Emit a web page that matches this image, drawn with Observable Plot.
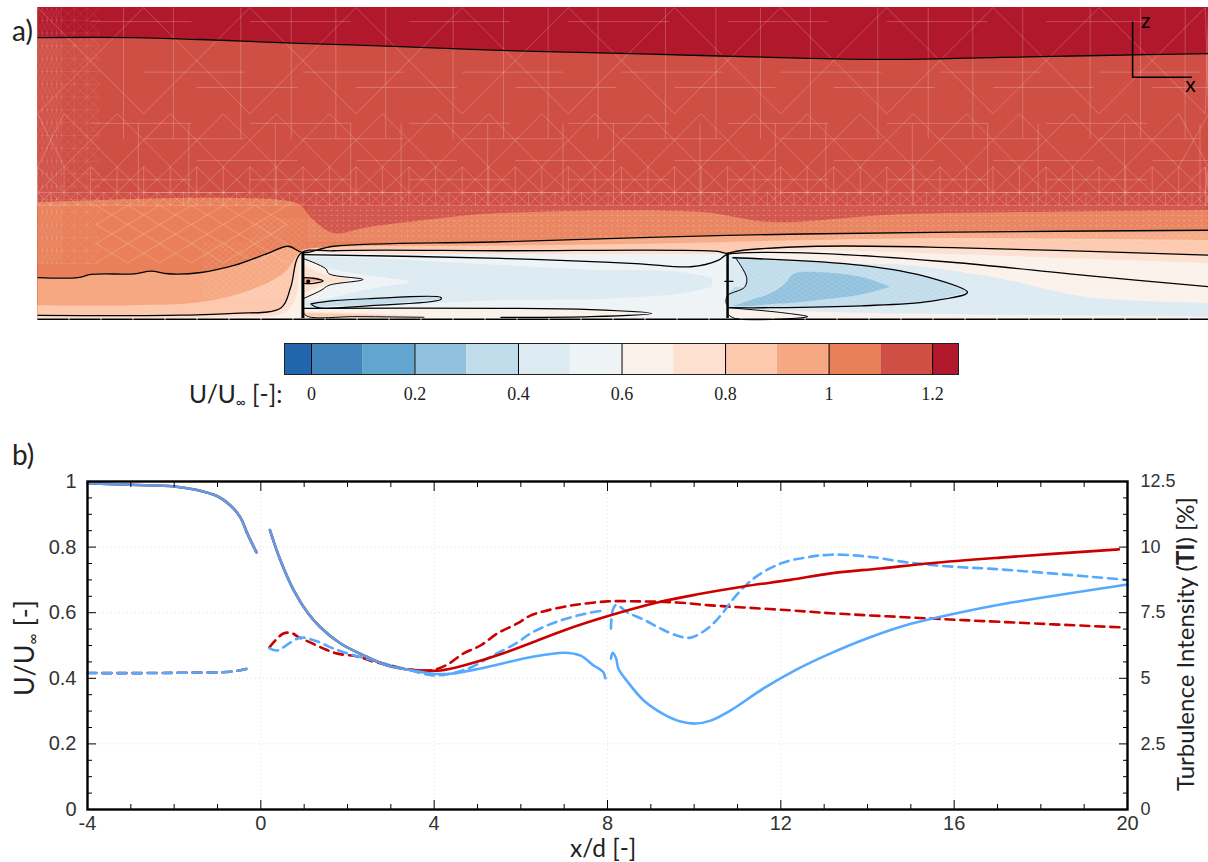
<!DOCTYPE html>
<html><head><meta charset="utf-8">
<script src="https://cdn.jsdelivr.net/npm/d3@7"></script>
<script src="https://cdn.jsdelivr.net/npm/@observablehq/plot@0.6"></script>
<style>
html,body{margin:0;padding:0;background:#fff}
#page{position:relative;width:1208px;height:862px;overflow:hidden;font-family:Lato,sans-serif;color:#222}
#page>div{position:absolute;white-space:nowrap;line-height:1}
#page>svg,#page>div>svg{position:absolute;overflow:visible}
sub{font-size:.55em;vertical-align:baseline;position:relative;top:.3em}
</style></head><body><div id="page"></div>
<script>
// ---------- colour levels of U/U_inf ----------
const levelEdges = [-0.052,0,0.1,0.2,0.3,0.4,0.5,0.6,0.7,0.8,0.9,1.0,1.1,1.2,1.25];
const levelColors = ["#2166ac","#4285bc","#62a5cf","#92c1de","#c1dcea","#dceaf2","#eef3f6","#faf1ea","#fde0d0","#fdc9ae","#f6a882","#e9805a","#d04f45","#b2182b"];
const contourTicks = [0,0.2,0.4,0.6,0.8,1,1.2];

// ---------- panel a: iso-level outlines [x/d, z/d] ----------
const iso12 = [[-4.99,4.42],[-3.18,4.42],[-1.92,4.39],[-0.04,4.33],[1.85,4.28],[3.73,4.22],[5.61,4.18],[7.5,4.14],[9.38,4.10],[11.26,4.08],[13.15,4.11],[15.0,4.14],[17.06,4.17]];
const iso11 = [[-4.99,1.84],[-1.92,1.91],[-0.36,1.87],[-0.04,1.80],[0.15,1.61],[0.58,1.36],[1.22,1.45],[2.6,1.59],[3.73,1.67],[7.48,1.69],[8.83,1.53],[10.96,1.64],[12.22,1.67],[17.06,1.72]];
const iso10 = [[-4.99,0.67],[-4.24,0.67],[-3.99,0.72],[-3.18,0.73],[-2.86,0.77],[-2.54,0.73],[-1.92,0.75],[-1.30,0.86],[-0.66,1.05],[-0.28,1.16],[0,1.06],[0.58,1.16],[3.73,1.23],[7.98,1.33],[12.22,1.38],[17.06,1.41]];
const iso09 = [[-4.99,0.23],[-3.18,0.23],[-1.92,0.28],[-0.98,0.47],[-0.36,0.73],[-0.09,1.02],[0,1.09],[0.58,1.14],[3.73,1.16],[7.98,1.22],[9.68,1.25],[12.22,1.28],[17.06,1.25]];
const iso08 = [[-4.99,0.08],[-2.54,0.08],[-1.30,0.11],[-0.41,0.20],[-0.23,0.52],[-0.04,1.05],[0.58,1.09],[3.73,1.09],[7.82,1.08],[7.98,1.05],[8.23,1.09],[9.68,1.16],[12.22,1.14],[17.06,1.02]];
const iso07 = [[-4.99,0.03],[-1.3,0.05],[-0.32,0.125],[-0.11,0.39],[-0.04,0.97],[0,1.02],[1.85,1.03],[3.73,1.02],[6.55,0.95],[7.82,0.97],[8,1.0],[8.25,1.06],[9.68,1.09],[12.22,1.03],[17.06,0.89]];
const iso06 = [[0.02,1.03],[3.73,0.97],[6.27,0.89],[7.31,0.84],[7.82,0.94],[7.98,1.03],[8.15,1.05],[9.68,1.05],[12.22,0.91],[14.78,0.70],[17.06,0.53]];

// ---------- panel a: closed regions [x/d, z top, z bottom] ----------
const regions = [
  [6,[[0,1.03,0.03],[8,1.03,0.03]]],
  [7,[[0,0.19,0.03],[3.73,0.19,0.03],[5.42,0.17,0.06],[6.57,0.11,0.11]]],
  [8,[[0,0.125,0.05],[1.0,0.11,0.04],[2.28,0.06,0.05]]],
  [9,[[0.1,0.11,0.06],[1.0,0.09,0.05],[1.8,0.06,0.05]]],
  [7,[[8.02,0.20,0.03],[9.0,0.125,0.04],[9.51,0.06,0.06]]],
  [5,[[0.06,0.98,0.22],[1.22,0.97,0.22],[3.73,0.86,0.31],[5.61,0.78,0.33],[6.27,0.78,0.36],[7.12,0.75,0.41],[7.72,0.66,0.52]]],
  [6,[[0.06,0.9,0.30],[0.5,0.8,0.34],[1.22,0.7,0.48],[2.0,0.62,0.58]]],
  [7,[[0.02,0.97,0.34],[0.43,0.81,0.47],[0.49,0.73,0.55],[1.13,0.64,0.64]]],
  [8,[[0.02,0.85,0.42],[0.4,0.72,0.54],[0.9,0.64,0.62]]],
  [10,[[0.02,0.67,0.58],[0.38,0.62,0.62]]],
  [4,[[0.15,0.26,0.20],[0.58,0.31,0.22],[1.22,0.34,0.24],[2.60,0.36,0.33]]],
  [5,[[8.1,1.0,0.16],[9.38,0.92,0.14],[10.53,0.88,0.11],[11.37,0.86,0.10],[13.07,0.66,0.08],[14.78,0.36,0.07],[17.06,0.27,0.05]]],
  [4,[[8.02,0.98,0.2],[10.53,0.86,0.23],[11.81,0.67,0.30],[12.52,0.44,0.44]]],
  [5,[[8.0,1.0,0.39],[8.15,0.98,0.52],[8.32,0.72,0.52],[8.36,0.67,0.67]]],
  [3,[[8.10,0.22,0.22],[8.44,0.31,0.22],[8.83,0.42,0.25],[9.10,0.58,0.26],[9.25,0.72,0.27],[9.68,0.75,0.31],[10.53,0.67,0.4],[11.07,0.52,0.52]]]
];

// ---------- panel a: contour outlines ----------
const wake1Inner = [[0,0.97],[0.43,0.81],[0.49,0.73],[1.13,0.64],[0.49,0.55],[0.34,0.47],[0,0.34]];
const hubLens = [[0.02,0.67],[0.2,0.66],[0.38,0.62],[0.2,0.58],[0.02,0.58]];
const lowerLens = [[0.15,0.26],[0.58,0.31],[1.22,0.34],[2.6,0.36],[2.6,0.33],[1.22,0.23],[0.28,0.20],[0.15,0.26]];
const lowerWake1 = [[0,0.19],[3.73,0.19],[5.42,0.17],[6.57,0.11],[5.42,0.06],[3.73,0.05]];
const lowerLens1 = [[0,0.125],[0.1,0.06],[1.0,0.06],[2.28,0.05]];
const lowerWake2 = [[8.02,0.20],[9.0,0.125],[9.51,0.06],[8.15,0.03],[8,0.1]];
const wake2Core = [[8.1,0.98],[10.53,0.86],[11.81,0.67],[12.52,0.44],[11.81,0.30],[10.53,0.23],[8.83,0.20],[8.02,0.20]];
const wake2Hub = [[8.15,0.98],[8.36,0.67],[8.32,0.52],[8.0,0.39],[7.97,0.28],[8.02,0.20]];
const hubDash = [[7.95,0.61],[8.1,0.61]];
const groundLine = [[-4.99,0.02],[17.06,0.02]];
const rotors = [0,8];

// ---------- panel a: mesh layout ----------
const meshRowZ = [4.89,3.23,2.4,2.0,1.8];
const meshRowDx = [2,1,0.5,0.25];
const meshRowShift = [0,0.5,0,0];
const meshVertOffsets = [0.62,0.9,1.56,1.85,2.83,3.48,3.78];
const meshHorizZ = [4.67,3.88,3.64,3.08,2.84,2.5,2.2,2.0];
const meshFineZ = [1.8,1.72,1.64,1.56,1.48,1.4,1.32,1.24];

// ---------- panel b: curves ----------
const velUp = [[-4,0.995],[-3,0.99],[-2,0.985],[-1.5,0.975],[-1,0.955],[-0.7,0.927],[-0.47,0.89],[-0.31,0.841],[-0.1,0.784]];
const velNear = [[0.21,0.852],[0.454,0.759],[0.76,0.668],[1.08,0.60],[1.38,0.555],[1.84,0.506],[2.37,0.47],[2.92,0.439],[3.38,0.427]];
const velRed = [[3.38,0.427],[3.75,0.424],[4.15,0.424],[4.68,0.439],[5.46,0.47],[6.22,0.507],[6.99,0.546],[8.07,0.592],[9.15,0.631],[10.08,0.656],[11.14,0.68],[12.22,0.70],[13.15,0.72],[14.3,0.735],[15.45,0.751],[17.07,0.768],[19.8,0.793]];
const velBlueA = [[3.38,0.427],[3.99,0.414],[4.38,0.414],[5.07,0.43],[6.22,0.464],[7,0.478],[7.38,0.469],[7.68,0.439],[7.9,0.419],[7.95,0.40]];
const velBlueB = [[8.08,0.46],[8.12,0.478],[8.2,0.46],[8.25,0.43],[8.46,0.39],[8.83,0.333],[9.3,0.29],[9.69,0.268],[10.03,0.262],[10.38,0.271],[10.84,0.302],[11.6,0.369],[12.38,0.428],[13.15,0.476],[14,0.522],[15,0.566],[16,0.597],[17.07,0.625],[20,0.686]];
const tiUp = [[-4,5.2],[-2.5,5.2],[-1.5,5.22],[-0.7,5.25],[-0.3,5.37]];
const tiRed = [[0.2,6.18],[0.52,6.71],[0.73,6.71],[0.85,6.59],[1.15,6.36],[1.45,6.13],[1.77,5.94],[2.23,5.83],[2.6,5.64],[3,5.49],[3.38,5.34],[3.92,5.3],[4.31,5.53],[4.68,5.95],[5.07,6.25],[5.46,6.71],[5.92,7.09],[6.22,7.39],[6.52,7.55],[6.92,7.7],[7.31,7.81],[8,7.93],[8.83,7.93],[9.6,7.89],[10.38,7.78],[11.14,7.7],[12.22,7.59],[13.15,7.48],[15.45,7.28],[17.07,7.15],[19.85,6.94]];
const tiBlueA = [[0.2,6.14],[0.38,6.06],[0.68,6.36],[0.92,6.55],[1.31,6.4],[1.68,6.13],[2.14,5.88],[2.53,5.71],[3,5.49],[3.45,5.3],[3.99,5.11],[4.38,5.18],[4.84,5.41],[5.37,5.88],[5.92,6.36],[6.22,6.71],[6.84,7.16],[7.54,7.48],[7.95,7.59]];
const tiBlueB = [[8.08,6.9],[8.12,7.59],[8.2,7.8],[8.46,7.51],[8.83,7.24],[9.22,6.9],[9.6,6.63],[9.92,6.55],[10.31,6.9],[10.61,7.39],[10.91,8.04],[11.37,8.8],[12,9.38],[12.6,9.61],[13.15,9.71],[14,9.64],[15,9.4],[16,9.25],[17.07,9.15],[20,8.75]];

const xMajor = [-4,0,4,8,12,16,20];
const xMinor = [-3,-2,-1,1,2,3,5,6,7,9,10,11,13,14,15,17,18,19];
const yMajor = [0,0.2,0.4,0.6,0.8,1];
const yMinor = [0.05,0.1,0.15,0.25,0.3,0.35,0.45,0.5,0.55,0.65,0.7,0.75,0.85,0.9,0.95];
const tiMax = 12.5;
const red = "#cc0000", blue = "#55aaff";

// ---------- mesh table (decorative lines of the numerical mesh) ----------
const mesh = [], meshDense = [], meshFine = [];
function addCell(out,x0,x1,z0,z1,box){
  out.push({x1:x0,y1:z0,x2:x1,y2:z1},{x1:x0,y1:z1,x2:x1,y2:z0});
  if(box) out.push({x1:x0,y1:z0,x2:x1,y2:z0},{x1:x0,y1:z0,x2:x0,y2:z1});
}
meshRowDx.forEach((dx,i)=>{
  for(let x=-5-meshRowShift[i]*dx;x<17.05;x+=dx)
    addCell(mesh,Math.max(x,-5),Math.min(x+dx,17.06),meshRowZ[i+1],meshRowZ[i],i>1);
});
for(let p=-4;p<17;p+=4) meshVertOffsets.forEach((o,k)=>{
  if(p+o<17.06) mesh.push({x1:p+o,y1:k%2?3.08:4.89,x2:p+o,y2:k%2?1.8:2.84});
});
meshHorizZ.forEach((z,k)=>{
  for(let x=-4+(k%3);x<17;x+=3) mesh.push({x1:x,y1:z,x2:Math.min(x+1.9,17.06),y2:z});
});
for(let z=4.89;z>0.9;z-=0.2) for(let x=-5;x<-3.9;){const dx=x<-4.6?0.09:0.24;addCell(meshDense,x,x+dx,z-0.2,z,true);x+=dx;}
for(let z=1.8;z>0.9;z-=0.3) for(let x=-3.9;x<-0.4;x+=0.6) addCell(mesh,x,x+0.6,z-0.3,z,false);
for(let z=1.6;z>0.4;z-=0.09) for(let x=-1.9;x<0;x+=0.13) if(z<1.3||x>-1) addCell(meshFine,x,x+0.13,z-0.09,z,false);
for(let i=0;i<meshFineZ.length-1;i++) for(let x=0.1;x<17;x+=0.11) addCell(meshFine,x,x+0.11,meshFineZ[i+1],meshFineZ[i],true);
for(let z=1.2;z>0.05;z-=0.07) for(let x=0.1;x<17;x+=0.14) addCell(meshFine,x,x+0.14,z-0.07,z,false);

const page = document.getElementById("page");
const pt = {x:d=>d[0],y:d=>d[1]};
const smooth = "catmull-rom";
const below = (c,i)=>Plot.areaY(c,{x:d=>d[0],y1:d=>d[1],y2:0,fill:levelColors[i],curve:smooth});
const contour = (c,w=1.3)=>Plot.line(c,{...pt,stroke:"#000",strokeWidth:w,curve:smooth});

// ---------- panel a ----------
const panelA = Plot.plot({
  width:1208,height:313,marginLeft:37,marginRight:0,marginTop:0,marginBottom:0,
  x:{domain:[-5,17.06],axis:null},y:{domain:[0,4.89],axis:null},
  marks:[
    Plot.rect([{}],{x1:-5,x2:17.06,y1:0,y2:4.89,fill:levelColors[12]}),
    Plot.areaY(iso12,{x:d=>d[0],y1:d=>d[1],y2:4.89,fill:levelColors[13],curve:smooth}),
    below(iso11,11),below(iso10,10),below(iso09,9),below(iso08,8),below(iso07,7),
    ...regions.map(([i,r])=>Plot.areaY(r,{x:d=>d[0],y1:d=>d[1],y2:d=>d[2],fill:levelColors[i],curve:smooth})),
    Plot.link(mesh,{x1:"x1",y1:"y1",x2:"x2",y2:"y2",stroke:"#fff",strokeOpacity:0.24,strokeWidth:0.9}),
    Plot.link(meshDense,{x1:"x1",y1:"y1",x2:"x2",y2:"y2",stroke:"#fff",strokeOpacity:0.12,strokeWidth:0.7}),
    Plot.link(meshFine,{x1:"x1",y1:"y1",x2:"x2",y2:"y2",stroke:"#fff",strokeOpacity:0.13,strokeWidth:0.8}),
    contour(iso12),contour(iso10),contour(iso08),contour(iso06),
    contour(wake1Inner,1),contour(hubLens),contour(lowerLens,1.2),contour(lowerWake1),contour(lowerLens1,1),
    contour(lowerWake2,1),contour(wake2Core),contour(wake2Hub,1),contour(hubDash),
    Plot.line(groundLine,{...pt,stroke:"#000",strokeWidth:1.6,strokeDasharray:"30,2"}),
    Plot.dot([[0.1,0.61]],{...pt,r:2,fill:"#000"}),
    Plot.ruleX([rotors[0]],{y1:0.03,y2:1.06,stroke:"#000",strokeWidth:3}),
    Plot.ruleX([rotors[1]],{y1:0.03,y2:1.05,stroke:"#000",strokeWidth:2.5}),
    Plot.ruleX([15.63],{y1:3.8,y2:4.66,stroke:"#000",strokeWidth:1.6}),
    Plot.ruleY([3.8],{x1:15.63,x2:16.76,stroke:"#000",strokeWidth:1.6}),
    Plot.text(["z"],{x:15.88,y:4.68,fontSize:21,fill:"#000",fontFamily:"Lato"}),
    Plot.text(["x"],{x:16.72,y:3.68,fontSize:21,fill:"#000",fontFamily:"Lato"})
  ]
});
panelA.style.left="0";panelA.style.top="7px";page.append(panelA);

// ---------- colour bar ----------
const cbCells = levelColors.map((c,i)=>({x1:levelEdges[i],x2:levelEdges[i+1],fill:c}));
const colorbar = Plot.plot({
  width:1208,height:70,marginLeft:284,marginRight:250,marginTop:0,marginBottom:39,
  x:{domain:[-0.052,1.25]},y:{domain:[0,1],axis:null},
  style:{fontFamily:"'Liberation Serif',serif",fontSize:"18px",color:"#222"},
  marks:[
    Plot.rect(cbCells,{x1:"x1",x2:"x2",y1:0,y2:1,fill:"fill"}),
    Plot.ruleX(contourTicks,{stroke:"#000",strokeWidth:1}),
    Plot.frame({stroke:"#222",strokeWidth:1}),
    Plot.axisX({ticks:contourTicks,tickSize:0,tickPadding:13,tickFormat:d=>String(d),label:null,fontSize:18})
  ]
});
colorbar.style.left="0";colorbar.style.top="343px";page.append(colorbar);

// ---------- panel b ----------
const uLine=(c,s)=>Plot.line(c,{...pt,stroke:s,strokeWidth:2.6,curve:smooth});
const tLine=(c,s)=>Plot.line(c,{x:d=>d[0],y:d=>d[1]/tiMax,stroke:s,strokeWidth:2.6,strokeDasharray:"9,6",curve:smooth});
const panelB = Plot.plot({
  width:1208,height:392,marginLeft:87,marginRight:81,marginTop:11,marginBottom:53,
  x:{domain:[-4,20]},y:{domain:[0,1]},
  style:{fontFamily:"'Liberation Sans',Arial,sans-serif",fontSize:"20px",color:"#333"},
  marks:[
    Plot.gridX(xMajor,{stroke:"#ccc",strokeOpacity:0.6,strokeDasharray:"1,3"}),
    Plot.gridY(yMajor,{stroke:"#ccc",strokeOpacity:0.6,strokeDasharray:"1,3"}),
    tLine(tiUp,red),tLine(tiRed,red),
    tLine(tiUp,blue),tLine(tiBlueA,blue),tLine(tiBlueB,blue),
    uLine(velUp,red),uLine(velNear,red),uLine(velRed,red),
    uLine(velUp,"#5b9fe6"),uLine(velNear,"#5b9fe6"),uLine(velBlueA,blue),uLine(velBlueB,blue),
    Plot.axisX({ticks:xMajor,tickSize:0,tickPadding:6,label:null,tickFormat:d=>String(d)}),
    Plot.axisY({ticks:yMajor,tickSize:0,tickPadding:11,label:null,tickFormat:d=>String(d)}),
    Plot.axisY({ticks:yMajor,anchor:"right",tickSize:0,tickPadding:13,label:null,fontSize:18,tickFormat:d=>String(d*tiMax)}),
    Plot.axisX({ticks:xMajor,anchor:"bottom",tickSize:-9,text:null,label:null,stroke:"#000"}),
    Plot.axisX({ticks:xMinor,anchor:"bottom",tickSize:-5,text:null,label:null,stroke:"#000"}),
    Plot.axisX({ticks:xMajor,anchor:"top",tickSize:-9,text:null,label:null,stroke:"#000"}),
    Plot.axisX({ticks:xMinor,anchor:"top",tickSize:-5,text:null,label:null,stroke:"#000"}),
    Plot.axisY({ticks:yMajor,anchor:"left",tickSize:-9,text:null,label:null,stroke:"#000"}),
    Plot.axisY({ticks:yMinor,anchor:"left",tickSize:-5,text:null,label:null,stroke:"#000"}),
    Plot.axisY({ticks:yMajor,anchor:"right",tickSize:-9,text:null,label:null,stroke:"#000"}),
    Plot.axisY({ticks:yMinor,anchor:"right",tickSize:-5,text:null,label:null,stroke:"#000"}),
    Plot.frame({stroke:"#000",strokeWidth:2.4})
  ]
});
panelB.style.left="0";panelB.style.top="470px";page.append(panelB);

// ---------- labels ----------
function label(html,css){const d=document.createElement("div");d.innerHTML=html;d.style.cssText=css;page.append(d);}
label("a)","left:12px;top:16px;font-size:28px");
label("b)","left:12px;top:440px;font-size:28px");
label("U/U<sub>∞</sub> [-]:","left:189px;top:382px;font-size:24.5px");
label("x/d [-]","left:570px;top:836px;font-size:24.5px");
label("U/U<sub>∞</sub> [-]","left:23px;top:648px;font-size:27px;transform:translate(-50%,-50%) rotate(-90deg)");
label("Turbulence Intensity (<b>TI</b>) [%]","left:1185px;top:644px;font-size:24px;transform:translate(-50%,-50%) rotate(-90deg)");
</script></body></html>
